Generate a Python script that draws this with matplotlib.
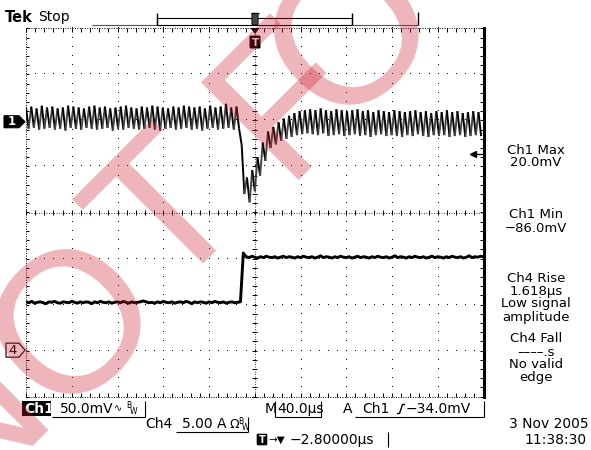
import numpy as np
import matplotlib
matplotlib.use("Agg")
import matplotlib.pyplot as plt
from matplotlib.patches import Rectangle, Polygon, FancyBboxPatch
from matplotlib.collections import LineCollection

# Ch1 output ripple (mV), alternating peak / trough, one value every 2.3 us from -200 us
ch1_t0 = -200.0
ch1_dt = 2.3
ch1_mv = [
    16, -7, 17, -6, 15, -8, 18, -7, 16, -6, 17, -8, 15, -7, 16, -9, 18, -6, 17, -7,
    16, -8, 15, -6, 17, -7, 18, -8, 16, -7, 17, -6, 15, -9, 16, -7, 17, -8, 18, -6,
    16, -7, 15, -8, 17, -7, 16, -6, 18, -8, 17, -9, 16, -7, 15, -6, 17, -8, 16, -7,
    18, -6, 17, -8, 16, -7, 17, -9, 15, -7, 18, -6, 16, -8, 17, -7, 20, -6, 16, -8,
    17,
    # load step: dip and recovery
    -7, -25, -78, -60, -87, -52, -75, -38, -58, -22, -42, -10, -28, -5, -24, 0,
    -20, 4, -18, 7, -16, 10, -14, 12, -13, 13, -12,
    # settled
    14, -13, 13, -14, 15, -12, 13, -15, 12, -14, 14, -13, 13, -15, 12, -14, 13, -13, 14, -15,
    12, -14, 13, -16, 11, -14, 13, -13, 12, -15, 11, -14, 13, -15, 12, -16, 11, -14, 12, -15,
    13, -13, 11, -15, 12, -16, 10, -14, 12, -15, 11, -14, 13, -16, 11, -15, 12, -14, 10, -16,
    11, -15, 12, -14, 11, -15,
]

# Ch4 load current (A), one value every 2.5 us from -200 us
ch4_t0 = -200.0
ch4_dt = 2.5
ch4_a = [
    5.3, 5.2, 5.35, 5.15, 5.25, 5.3, 5.2, 5.1, 5.3, 5.25, 5.35, 5.2, 5.15, 5.3, 5.25, 5.2, 5.35, 5.25, 5.15, 5.3,
    5.2, 5.3, 5.25, 5.1, 5.3, 5.2, 5.35, 5.25, 5.2, 5.3, 5.15, 5.25, 5.3, 5.2, 5.35, 5.25, 5.15, 5.3, 5.2, 5.25,
    5.3, 5.4, 5.3, 5.2, 5.25, 5.15, 5.3, 5.2, 5.35, 5.25, 5.2, 5.3, 5.15, 5.25, 5.3, 5.2, 5.35, 5.25, 5.1, 5.3,
    5.2, 5.3, 5.25, 5.15, 5.3, 5.2, 5.35, 5.25, 5.2, 5.3, 5.15, 5.25, 5.3, 5.2, 5.25, 5.3,
    10.6, 10.2, 10.1, 10.25, 10.15, 10.05, 10.2, 10.1, 10.25, 10.15, 10.1, 10.2, 10.05, 10.15, 10.25, 10.1, 10.2, 10.15, 10.05, 10.2,
    10.1, 10.25, 10.15, 10.1, 10.2, 10.05, 10.15, 10.3, 10.1, 10.2, 10.15, 10.05, 10.2, 10.1, 10.25, 10.15, 10.1, 10.2, 10.05, 10.15,
    10.25, 10.1, 10.2, 10.15, 10.05, 10.2, 10.1, 10.25, 10.15, 10.1, 10.2, 10.05, 10.15, 10.3, 10.1, 10.2, 10.15, 10.05, 10.2, 10.1,
    10.25, 10.15, 10.1, 10.2, 10.05, 10.15, 10.25, 10.1, 10.2, 10.15, 10.05, 10.2, 10.1, 10.25, 10.15, 10.1, 10.2, 10.05, 10.15, 10.3,
    10.1, 10.2, 10.15, 10.25, 10.2,
]

# scope settings
ch1_scale = 50.0     # mV/div
ch4_scale = 5.0      # A/div
ch1_pos = 1.96       # div
ch4_pos = -3.0       # div
trig_mv = -34.0
time_div = 40.0      # us/div

meas_lines = ["Ch1 Max", "20.0mV", "Ch1 Min", "\u221286.0mV", "Ch4 Rise", "1.618\u00b5s",
              "Low signal", "amplitude", "Ch4 Fall", "\u2013\u2013\u2013\u2013.s", "No valid", "edge"]
meas_y = [150, 163, 214, 228, 278, 291, 303, 317, 338, 352, 365, 378]

W, H = 591, 450
fig = plt.figure(figsize=(W / 100, H / 100), dpi=100)
fig.patch.set_facecolor("white")

# graticule area in pixels
gl, gr, gt, gb = 26, 483.5, 28.3, 396.7
ax = fig.add_axes([gl / W, 1 - gb / H, (gr - gl) / W, (gb - gt) / H])
ax.set_xlim(-5 * time_div, 5 * time_div)
ax.set_ylim(-4, 4)
ax.axis("off")

# dotted grid
minor_t = np.arange(-200, 200.01, time_div / 5)
minor_y = np.arange(-4, 4.01, 0.2)
for k in range(1, 10):
    if k == 5:
        continue
    tx = -200 + time_div * k
    ax.plot(np.full_like(minor_y, tx), minor_y, ls="none", marker=",", color="k", clip_on=False)
for j in range(-3, 4):
    if j == 0:
        continue
    ax.plot(minor_t, np.full_like(minor_t, j), ls="none", marker=",", color="k", clip_on=False)

# centre cross with ticks
ax.plot([-200, 200], [0, 0], color="k", lw=0.6, ls=(0, (1, 2)), clip_on=False)
ax.plot([0, 0], [-4, 4], color="k", lw=0.6, ls=(0, (1, 2)), clip_on=False)
ax.vlines(minor_t, -0.05, 0.05, color="k", lw=0.7, clip_on=False)
ax.hlines(minor_y, -2.0, 2.0, color="k", lw=0.7, clip_on=False)

# border
ax.plot([-200, 200], [4, 4], color="k", lw=0.7, ls=(0, (1, 1.5)), clip_on=False)
ax.plot([-200, 200], [-4, -4], color="k", lw=0.7, ls=(0, (1, 1.5)), clip_on=False)
ax.plot([-200, -200], [-4, 4], color="k", lw=0.7, ls=(0, (1, 1.5)), clip_on=False)
ax.plot([200, 200], [-4, 4], color="k", lw=2.2, clip_on=False)
ax.vlines(minor_t, 3.93, 4, color="k", lw=0.7, clip_on=False)
ax.vlines(minor_t, -4, -3.93, color="k", lw=0.7, clip_on=False)
ax.hlines(minor_y, -200, -197, color="k", lw=0.7, clip_on=False)
ax.hlines(minor_y, 197, 200, color="k", lw=0.7, clip_on=False)

# Ch4 trace
t4 = ch4_t0 + ch4_dt * np.arange(len(ch4_a))
y4 = np.array(ch4_a) / ch4_scale + ch4_pos
ax.plot(t4, y4, color="k", lw=2.1, zorder=3)

# Ch1 trace: rising edges drawn grey like the scope's intensity display
t1 = ch1_t0 + ch1_dt * np.arange(len(ch1_mv))
y1 = np.array(ch1_mv) / ch1_scale + ch1_pos
pts = np.column_stack([t1, y1])
segs = np.stack([pts[:-1], pts[1:]], axis=1)
cols = ["#454545" if d > 0 else "k" for d in np.diff(y1)]
ax.add_collection(LineCollection(segs, colors=cols, lw=1.4, zorder=3))

# trigger level arrow on right edge
trig_y = trig_mv / ch1_scale + ch1_pos
ax.plot([191, 199], [trig_y, trig_y], color="k", lw=1.0, clip_on=False)
ax.plot([191], [trig_y], marker="<", ms=4, color="k", clip_on=False)

# overlay in pixel coordinates for the scope readouts
ov = fig.add_axes([0, 0, 1, 1], zorder=5)
ov.set_xlim(0, W)
ov.set_ylim(H, 0)
ov.axis("off")
ov.patch.set_alpha(0)


def txt(x, y, s, **kw):
    kw.setdefault("fontsize", 10)
    kw.setdefault("va", "center")
    ov.text(x, y, s, **kw)


def seg(xs, ys, lw=0.8, color="k"):
    ov.plot(xs, ys, color=color, lw=lw, solid_capstyle="butt")


# top line
txt(5, 18, "Tek", fontsize=10.5, fontweight="bold")
txt(38, 17, "Stop", fontsize=10)
seg([92, 157], [25, 25], color="#555555")
ov.add_patch(Rectangle((157, 18), 195, 7, fill=False, ec="k", lw=0.8))
seg([157, 157], [13, 25], lw=1.0)
seg([352, 352], [13, 25], lw=1.0)
seg([352, 418], [25, 25], color="#555555")
seg([418, 418], [12, 25], lw=1.0)
ov.add_patch(FancyBboxPatch((252.5, 14), 5, 10, boxstyle="round,pad=0.6", fc="#444444", ec="k", lw=0.6))
seg([251, 259], [13, 13], lw=1.0)
ov.add_patch(Polygon([[250.5, 28], [259.5, 28], [255, 34]], closed=True, fc="k", ec="none"))
ov.add_patch(FancyBboxPatch((251, 37), 8, 10, boxstyle="round,pad=0.8", fc="k", ec="k"))
txt(255, 42.5, "T", fontsize=7.5, fontweight="bold", color="white", ha="center")

# channel ground markers
y_ch1 = 212 - ch1_pos * 46.05
y_ch4 = 212 - ch4_pos * 46.05
ov.add_patch(Polygon([[4, y_ch1 - 6], [19, y_ch1 - 6], [25, y_ch1], [19, y_ch1 + 6], [4, y_ch1 + 6]],
                     closed=True, fc="k", ec="k", lw=0.8))
txt(11.5, y_ch1, "1", fontsize=8.5, fontweight="bold", color="white", ha="center")
ov.add_patch(Polygon([[6, y_ch4 - 7], [19, y_ch4 - 7], [25, y_ch4], [19, y_ch4 + 7], [6, y_ch4 + 7]],
                     closed=True, fc="white", ec="k", lw=0.8))
txt(13, y_ch4, "4", fontsize=9.5, ha="center")

# measurements column
for s, yy in zip(meas_lines, meas_y):
    txt(536, yy, s, fontsize=9.5, ha="center")

# bottom readouts
r1, r2, r3 = 409, 424, 440
ov.add_patch(Rectangle((22, 401), 29, 15, fc="k", ec="none"))
txt(24, r1, "Ch1", fontsize=10, color="white", fontweight="bold")
txt(60, r1, "50.0mV", fontsize=10)
txt(114, r1 - 1, "\u223f", fontsize=7)
txt(126, r1 - 3, "B", fontsize=5.5)
txt(130, r1 + 3, "W", fontsize=5.5)
seg([52, 145], [416.5, 416.5])
seg([145, 145], [401, 416.5])

txt(265, r1, "M", fontsize=10)
txt(277, r1, "40.0\u00b5s", fontsize=10)
seg([275, 275], [401, 416.5])
seg([275, 321], [416.5, 416.5])
seg([321, 321], [401, 416.5])

txt(343, r1, "A", fontsize=10)
txt(362, r1, "Ch1", fontsize=10)
seg([397, 399.5, 402.5, 405], [r1 + 4.5, r1 + 4.5, r1 - 4.5, r1 - 4.5], lw=1.0)
txt(406, r1, "\u221234.0mV", fontsize=10)
seg([355, 484], [416.5, 416.5])
seg([484, 484], [401, 416.5])

txt(145, r2, "Ch4", fontsize=10)
txt(182, r2, "5.00 A", fontsize=10)
txt(229, r2, "\u03a9", fontsize=9)
txt(238, r2 - 3, "B", fontsize=5.5)
txt(242, r2 + 3, "W", fontsize=5.5)
seg([176, 248], [431.5, 431.5])
seg([248, 248], [417, 431.5])
txt(589, r2, "3 Nov 2005", fontsize=10, ha="right")

ov.add_patch(FancyBboxPatch((258, 435), 8, 9, boxstyle="round,pad=0.6", fc="k", ec="k"))
txt(262, r3, "T", fontsize=7, fontweight="bold", color="white", ha="center")
txt(268, r3, "\u2192\u25bc", fontsize=7.5)
txt(290, r3, "\u22122.80000\u00b5s", fontsize=10)
seg([388, 388], [432, 447])
txt(587, r3, "11:38:30", fontsize=10, ha="right")

# watermark letters, drawn on top
wm = dict(fontfamily="Liberation Sans", fontsize=144, rotation=45, rotation_mode="anchor",
          va="baseline", color=(0.80, 0.10, 0.16), alpha=0.32, zorder=20)
for ch, (px, py), ha in [("N", (4.2, 458.3), "center"), ("O", (115, 364), "center"),
                          ("T", (208.6, 253.9), "center"), ("F", (282.2, 180.3), "left"),
                          ("O", (393, 75), "center")]:
    fig.text(px / W, 1 - py / H, ch, ha=ha, **wm)

fig.savefig("out.png", dpi=100, facecolor="white")
